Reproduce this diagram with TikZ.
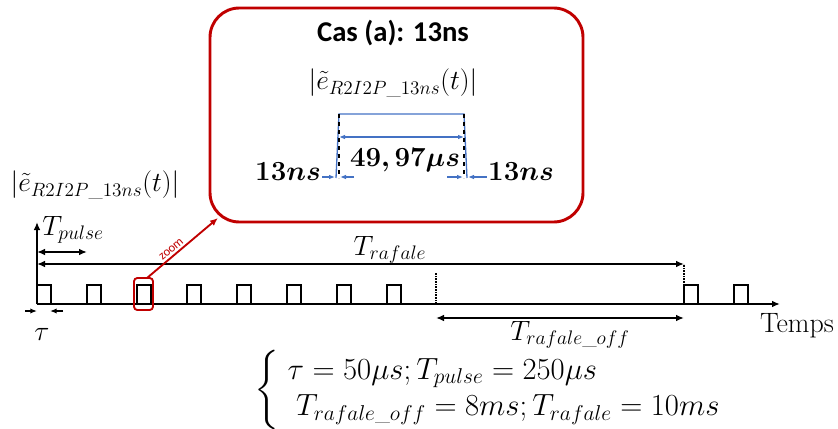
\documentclass[tikz,border=0pt]{standalone}
\usepackage{fix-cm}
\usepackage{fontspec}
\usepackage{amsmath}
\usepackage{bm}
\newfontfamily\calibri{Carlito}
\usetikzlibrary{arrows.meta}
\definecolor{rougezoom}{RGB}{192,0,0}
\definecolor{bleuimp}{RGB}{68,114,196}
\tikzset{
    axe/.style={ % axes du chronogramme
        line width=1.8pt,
        -{Latex[length=6pt,width=5pt]}
    },
    impulsion/.style={ % creneaux noirs
        line width=1.6pt
    },
    cote/.style={ % fleches de cotation noires
        line width=1.4pt,
        {Latex[length=6pt,width=5pt]}-{Latex[length=6pt,width=5pt]}
    },
    cotesimple/.style={ % demi-fleche de cotation
        line width=1pt,
        -{Latex[length=5pt,width=4pt]}
    },
    pointille/.style={ % traits verticaux pointilles
        line width=1.5pt,
        dash pattern=on 1.2pt off 0.8pt
    },
    cadre/.style={ % encadre rouge
        draw=rougezoom,
        line width=2.2pt,
        rounded corners=22pt
    },
    bleu/.style={ % impulsion agrandie
        draw=bleuimp,
        line width=1pt
    },
    bleufleche/.style={ % fleches bleues
        draw=bleuimp,
        line width=0.9pt,
        -{Latex[length=4.5pt,width=3.5pt]}
    },
    texte/.style={ % texte mathematique
        font=\fontsize{21}{25}\selectfont,
        inner sep=1pt
    },
    module/.style={ % module de l'enveloppe
        font=\fontsize{20.74}{24}\selectfont,
        inner sep=1pt
    },
    gras/.style={ % texte mathematique gras
        font=\fontsize{20.74}{24}\selectfont,
        inner sep=1pt
    }
}

\begin{document}
\begin{tikzpicture}[x=0.75pt,y=-0.75pt]
        \useasboundingbox (0,0) rectangle (838,428);

        % axes
        \coordinate (O) at (37,304);
        \coordinate (finaxe) at (780,304);
        \coordinate (hautaxe) at (37,222);
        \draw[axe] (O) -- (finaxe);
        \draw[axe] (O) -- (hautaxe);

        % creneaux
        \foreach \x in {37,87,137,187,237,287,337,387,684,734}
                \draw[impulsion] (\x,304) -- ++(0,-19) -- ++(14,0) -- ++(0,19);

        % pointilles
        \coordinate (finrafbas) at (436,304);
        \coordinate (finrafhaut) at (436,273);
        \coordinate (debrafbas) at (684,304);
        \coordinate (debrafhaut) at (684,264);
        \draw[pointille] (finrafbas) -- (finrafhaut);
        \draw[pointille] (debrafbas) -- (debrafhaut);

        % cotations
        \coordinate (rafg) at (37,264);
        \coordinate (pulg) at (37,252);
        \coordinate (puld) at (87,252);
        \coordinate (offg) at (436,318);
        \coordinate (offd) at (684,318);
        \coordinate (taug) at (25,311);
        \coordinate (taugb) at (37,311);
        \coordinate (taud) at (63,311);
        \coordinate (taudb) at (50,311);
        \draw[cote] (rafg) -- (debrafhaut);
        \draw[cote] (pulg) -- (puld);
        \draw[cote] (offg) -- (offd);
        \draw[cotesimple] (taug) -- (taugb);
        \draw[cotesimple] (taud) -- (taudb);

        \node[module] (eext) at (95,185) {$\left|\tilde{e}_{R2I2P\_13ns}(t)\right|$};
        \node[texte] (tpulse) at (73,230) {$T_{pulse}$};
        \node[texte] (trafale) at (390,250) {$T_{rafale}$};
        \node[texte] (troff) at (570,335) {$T_{rafale\_off}$};
        \node[texte] (tau) at (42,334) {$\tau$};
        \node[texte] (temps) at (797,326) {Temps};

        % relations
        \node[font=\fontsize{23}{27.5}\selectfont, inner sep=0pt, anchor=west] (relations) at (254,390)
                {$\left\{\begin{array}{@{\;}l}
                \tau = 50\mu s; T_{pulse} = 250\mu s\\
                \;T_{rafale\_off} = 8ms; T_{rafale} = 10ms
                \end{array}\right.$};

        % encadre du zoom
        \draw[cadre] (210,8) rectangle (583,222);
        \node[font=\calibri\bfseries\fontsize{21.5}{25}\selectfont] (titre) at (393,33) {Cas (a): 13ns};
        \node[module] (eint) at (393,83) {$\left|\tilde{e}_{R2I2P\_13ns}(t)\right|$};

        \coordinate (bg) at (336,178);
        \coordinate (hg) at (339,114);
        \coordinate (hd) at (464,114);
        \coordinate (bd) at (467,178);
        \draw[bleu] (bg) -- (hg) -- (hd) -- (bd);
        \draw[dashed, line width=0.8pt] (hg) -- (339,178);
        \draw[dashed, line width=0.8pt] (hd) -- (464,178);

        \coordinate (largg) at (339,137);
        \coordinate (largd) at (464,137);
        \draw[bleufleche, {Latex[length=4.5pt,width=3.5pt]}-{Latex[length=4.5pt,width=3.5pt]}] (largg) -- (largd);
        \node[gras] (largeur) at (405,160) {$\bm{49,97\mu s}$};

        \node[gras] (montee) at (288,172) {$\bm{13ns}$};
        \node[gras] (descente) at (521,172) {$\bm{13ns}$};
        \draw[bleufleche] (montee.east |- 0,177) -- (335,177);
        \draw[bleufleche] (354,177) -- (340,177);
        \draw[bleufleche] (447,177) -- (463,177);
        \draw[bleufleche] (descente.west |- 0,177) -- (468,177);

        % loupe
        \draw[rougezoom, line width=1.4pt, rounded corners=2.5pt] (134,278) rectangle (153,310);
        \coordinate (loupe) at (147,278);
        \coordinate (coin) at (218,218);
        \draw[rougezoom, line width=1.4pt, -{Latex[length=6pt,width=5pt]}] (loupe) -- (coin)
                node[pos=0.4, above, sloped, font=\calibri\fontsize{9.5}{11}\selectfont, text=rougezoom, inner sep=1.5pt] (lbzoom) {zoom};

\end{tikzpicture}
\end{document}
